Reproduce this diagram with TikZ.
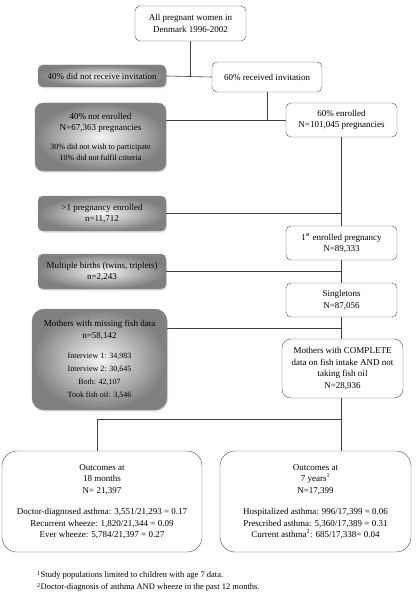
\documentclass[tikz,border=0pt]{standalone}
\usepackage{fontspec}
\setmainfont{Liberation Serif}
\usepackage{xcolor}
\usepackage{tikz}
\usetikzlibrary{shadows}

\newcommand{\smalltxt}{\fontsize{8}{10}\selectfont}

\begin{document}
\begin{tikzpicture}[x=1pt, y=-1pt,
    box/.style={draw=black!70, rounded corners=5pt, fill=white, align=center, inner sep=2pt, font=\fontsize{9}{11.5}\selectfont},
    greybox/.style={box, draw=black!45, inner color=black!4, outer color=black!50, drop shadow={opacity=0.25, shadow xshift=1pt, shadow yshift=-1.5pt}},
    link/.style={draw=black!75, line width=0.6pt}]
    \useasboundingbox (0,0) rectangle (417,599);

    \node[box, minimum width=111pt, minimum height=35pt] (all) at (190.5,23.5) {All pregnant women in\\Denmark 1996-2002};
    \node[greybox, minimum width=128pt, minimum height=22pt] (norecv) at (102,76) {40\% did not receive invitation};
    \node[box, minimum width=110pt, minimum height=30pt] (recv) at (267,77) {60\% received invitation};
    \node[greybox, rounded corners=8pt, minimum width=131pt, minimum height=68pt] (notenr) at (100.5,137) {40\% not enrolled\\N=67,363 pregnancies\\[7pt]\smalltxt 30\% did not wish to participate\\\smalltxt 10\% did not fulfil criteria};
    \node[box, minimum width=111pt, minimum height=34pt] (enr) at (341.5,120) {60\% enrolled\\N=101,045 pregnancies};

    \node[greybox, minimum width=128pt, minimum height=35pt] (more) at (102,213.5) {>1 pregnancy enrolled\\n=11,712};
    \node[box, minimum width=111pt, minimum height=34pt] (first) at (341.5,243) {1\textsuperscript{st} enrolled pregnancy\\N=89,333};
    \node[greybox, minimum width=128pt, minimum height=35pt] (twins) at (102,271.5) {Multiple births (twins, triplets)\\n=2,243};
    \node[box, minimum width=111pt, minimum height=34pt] (single) at (341.5,300) {Singletons\\N=87,056};

    \node[greybox, rounded corners=12pt, minimum width=135pt, minimum height=101pt] (missing) at (99.5,359.5) {Mothers with missing fish data\\n=58,142\\[9pt]\smalltxt Interview 1: 34,983\\[1.5pt]\smalltxt Interview 2: 30,645\\[1.5pt]\smalltxt Both: 42,107\\[1.5pt]\smalltxt Took fish oil: 3,546};
    \node[box, rounded corners=9pt, minimum width=121pt, minimum height=59pt] (complete) at (342.5,368.5) {Mothers with COMPLETE\\data on fish intake AND not\\taking fish oil\\N=28,936};

    \node[box, rounded corners=15pt, minimum width=200pt, minimum height=101pt] (out18) at (102,501.5) {Outcomes at\\18 months\\N= 21,397\\[10pt]Doctor-diagnosed asthma: 3,551/21,293 = 0.17\\Recurrent wheeze: 1,820/21,344 = 0.09\\Ever wheeze: 5,784/21,397 = 0.27};
    \node[box, rounded corners=15pt, minimum width=191pt, minimum height=101pt] (out7) at (315.5,501.5) {Outcomes at\\7 years\textsuperscript{1}\\N=17,399\\[10pt]Hospitalized asthma: 996/17,399 = 0.06\\Prescribed asthma: 5,360/17,389 = 0.31\\Current asthma\textsuperscript{2}: 685/17,338= 0.04};

    \node[anchor=north west, align=left, inner sep=0pt, font=\fontsize{8.5}{12}\selectfont] (notes) at (37,571) {\textsuperscript{1}Study populations limited to children with age 7 data.\\\textsuperscript{2}Doctor-diagnosis of asthma AND wheeze in the past 12 months.};

    \coordinate (fishjoin) at (341,328);
    \coordinate (split) at (341,419);

    \draw[link] (all.south) -- (all.south |- norecv.east);
    \draw[link] (norecv.east) -- (recv.west);
    \draw[link] (recv.south) -- (recv.south |- enr.west);
    \draw[link] (notenr.east |- enr.west) -- (enr.west);
    \draw[link] (enr.south) -- (first.north);
    \draw[link] (more.east) -- (more.east -| enr.south);
    \draw[link] (first.south) -- (single.north);
    \draw[link] (twins.east) -- (twins.east -| first.south);
    \draw[link] (single.south) -- (complete.north -| single.south);
    \draw[link] (missing.east |- fishjoin) -- (fishjoin);
    \draw[link] (complete.south -| split) -- (split);
    \draw[link] (split) -| ([xshift=-5pt]out18.north);
    \draw[link] (split) -- (split |- out7.north);
\end{tikzpicture}
\end{document}
